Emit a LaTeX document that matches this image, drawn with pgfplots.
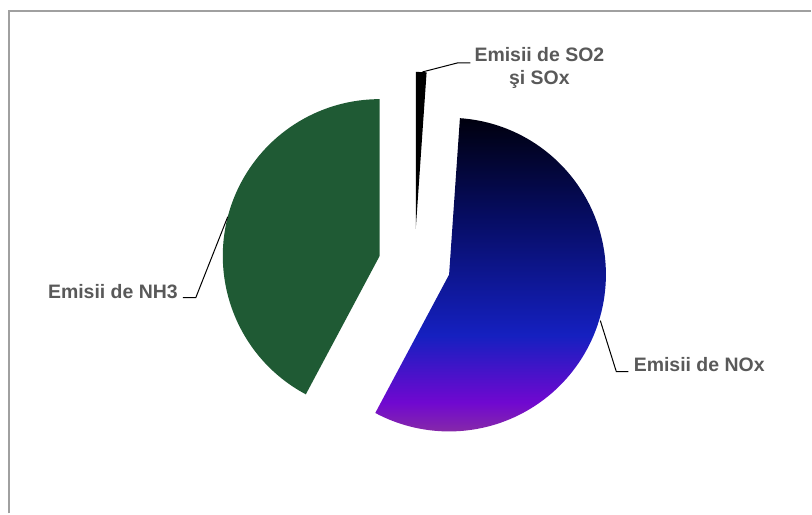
\documentclass[border=0pt]{standalone}
\usepackage{pgfplots}
\pgfplotsset{compat=1.18}
\usepackage{pgfplotstable}
\usepackage{fontspec}
\setmainfont{Liberation Sans}

\definecolor{labelgray}{HTML}{595959}
\definecolor{framegray}{HTML}{A0A0A0}
\definecolor{nhgreen}{HTML}{1F5A34}
\definecolor{noxA}{HTML}{8A30A0}
\definecolor{noxB}{HTML}{7008D0}
\definecolor{noxC}{HTML}{1520C0}
\definecolor{noxD}{HTML}{060C60}
\definecolor{noxE}{HTML}{00000E}
\pgfdeclareverticalshading{noxshade}{100bp}{color(0bp)=(noxA); color(25bp)=(noxA); color(30.5bp)=(noxB); color(41bp)=(noxC); color(60bp)=(noxD); color(75bp)=(noxE); color(100bp)=(noxE)}

% share of emissions (percent), clockwise from 12 o'clock
\pgfplotstableread{
label value
SO2 1.1
NOx 56.7
NH3 42.2
}\piedata

\begin{document}
\begin{tikzpicture}
\pgfplotstablegetelem{0}{value}\of\piedata\edef\vA{\pgfplotsretval}
\pgfplotstablegetelem{1}{value}\of\piedata\edef\vB{\pgfplotsretval}
\pgfplotstablegetelem{2}{value}\of\piedata\edef\vC{\pgfplotsretval}
\pgfmathsetmacro\aZero{90}
\pgfmathsetmacro\aOne{\aZero-3.6*\vA}
\pgfmathsetmacro\aTwo{\aOne-3.6*\vB}
\pgfmathsetmacro\aThree{\aTwo-3.6*\vC}
% exploded centres
\pgfmathsetmacro\mA{(\aZero+\aOne)/2}
\pgfmathsetmacro\mB{(\aOne+\aTwo)/2}
\pgfmathsetmacro\mC{(\aTwo+\aThree)/2}
\pgfmathsetmacro\xA{415+36*cos(\mA)}\pgfmathsetmacro\yA{249+36*sin(\mA)}
\pgfmathsetmacro\xB{415+36*cos(\mB)}\pgfmathsetmacro\yB{249+36*sin(\mB)}
\pgfmathsetmacro\xC{415+36*cos(\mC)}\pgfmathsetmacro\yC{249+36*sin(\mC)}
\def\R{117.75pt}
\begin{axis}[
  x=0.75pt, y=0.75pt,
  xmin=0, xmax=812, ymin=0, ymax=514,
  hide axis, clip=false,
]
\path (axis cs:0,0) rectangle (axis cs:812,514);
% frame
\draw[framegray, line width=1.4pt] (axis cs:9,0) -- (axis cs:9,503) -- (axis cs:812,503);
% slices
\fill[black] (axis cs:\xA,\yA) -- ++(\aZero:\R) arc[start angle=\aZero, end angle=\aOne, radius=\R] -- cycle;
\shade[shading=noxshade] (axis cs:\xB,\yB) -- ++(\aOne:\R) arc[start angle=\aOne, end angle=\aTwo, radius=\R] -- cycle;
\fill[nhgreen] (axis cs:\xC,\yC) -- ++(\aTwo:\R) arc[start angle=\aTwo, end angle=\aThree, radius=\R] -- cycle;
% leader lines
\draw[black, line width=0.75pt] (axis cs:423,442) -- (axis cs:458,451) -- (axis cs:471,451);
\draw[black, line width=0.75pt] (axis cs:228,297) -- (axis cs:196,216) -- (axis cs:183,216);
\draw[black, line width=0.75pt] (axis cs:601,193) -- (axis cs:617,142) -- (axis cs:629,142);
% labels
\node[font=\bfseries\fontsize{14.6}{17.3}\selectfont, text=labelgray, align=center, inner sep=0pt] at (axis cs:540,446) {Emisii de SO2\\şi SOx};
\node[font=\bfseries\fontsize{14.6}{17.3}\selectfont, text=labelgray, inner sep=0pt] at (axis cs:113,222) {Emisii de NH3};
\node[font=\bfseries\fontsize{14.6}{17.3}\selectfont, text=labelgray, inner sep=0pt] at (axis cs:700,149) {Emisii de NOx};
\end{axis}
\end{tikzpicture}
\end{document}
